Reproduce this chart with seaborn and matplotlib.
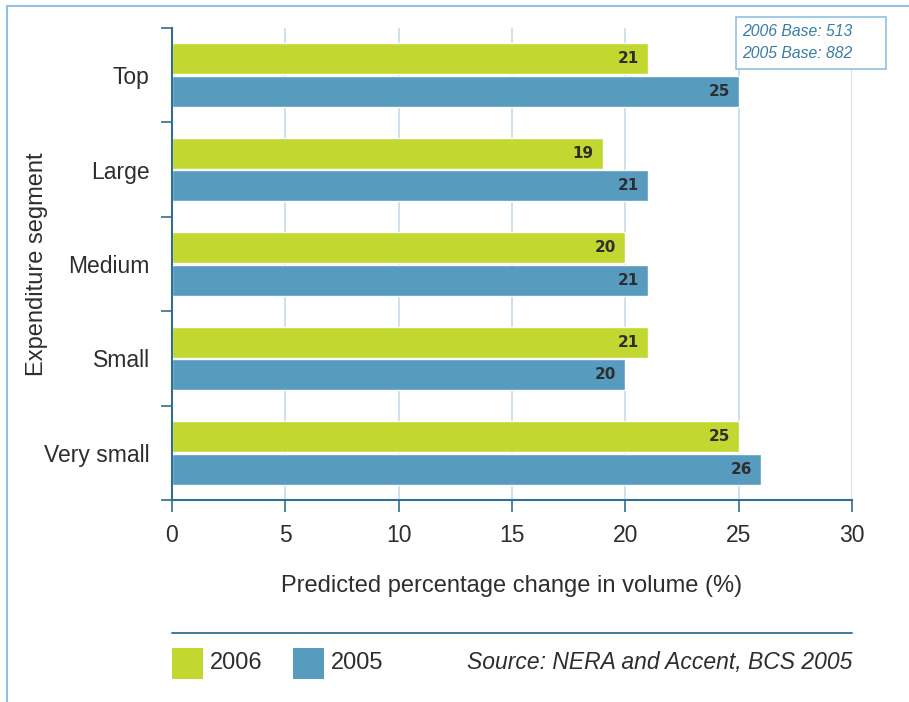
import matplotlib
matplotlib.use("Agg")
import matplotlib.pyplot as plt
from matplotlib.patches import Rectangle
from matplotlib.lines import Line2D
from matplotlib.ticker import FixedLocator
import seaborn as sns
import pandas as pd

segments = ["Top", "Large", "Medium", "Small", "Very small"]
years = ["2006", "2005"]
values_2006 = [21, 19, 20, 21, 25]
values_2005 = [25, 21, 21, 20, 26]
x_ticks = [0, 5, 10, 15, 20, 25, 30]

GREEN = "#C2D72F"
BLUE = "#579BBF"
AXIS = "#2F6F8F"
GRID = "#C5DCEC"
FRAME = "#92C1DF"
TEXT = "#2E2E2E"

REG = ["Liberation Sans", "DejaVu Sans"]

sns.set_theme(style="white")
plt.rcParams["font.family"] = REG

df = pd.DataFrame({
    "Segment": segments * 2,
    "Year": [years[0]] * len(segments) + [years[1]] * len(segments),
    "Value": values_2006 + values_2005,
})

fig = plt.figure(figsize=(9.09, 7.02), dpi=100)
ax = fig.add_axes([172 / 909, 1 - 500 / 702, 680 / 909, 472 / 702])

sns.barplot(data=df, y="Segment", x="Value", hue="Year", hue_order=years,
            order=segments, palette=[GREEN, BLUE], orient="h", width=0.69,
            gap=0.05, saturation=1, legend=False, ax=ax, zorder=3)

ax.set_xlim(0, 30)
ax.set_ylim(4.5, -0.5)
ax.xaxis.set_major_locator(FixedLocator(x_ticks))
ax.set_xticklabels([str(t) for t in x_ticks], fontsize=16.5, color=TEXT)
ax.tick_params(axis="x", bottom=True, direction="out", length=8.5, width=1.2,
               color=AXIS, pad=9)

ax.yaxis.set_major_locator(FixedLocator(range(len(segments))))
ax.set_yticklabels(segments, fontsize=16.5, color=TEXT)
ax.yaxis.set_minor_locator(FixedLocator([i - 0.5 for i in range(len(segments) + 1)]))
ax.tick_params(axis="y", which="major", left=True, length=0, pad=16)
ax.tick_params(axis="y", which="minor", left=True, direction="out", length=8,
               width=1.2, color=AXIS)

for x in x_ticks[1:]:
    ax.axvline(x, color=GRID, lw=1.2, zorder=1)

for s in ["top", "right"]:
    ax.spines[s].set_visible(False)
for s in ["left", "bottom"]:
    ax.spines[s].set_color(AXIS)
    ax.spines[s].set_linewidth(1.5)
    ax.spines[s].set_zorder(4)

ax.set_xlabel("Predicted percentage change in volume (%)", fontsize=17,
              color=TEXT, labelpad=20)
ax.set_ylabel("Expenditure segment", fontsize=17, color=TEXT)
ax.yaxis.set_label_coords((48 - 172) / 680, 0.5)

# value labels
for vals, off in [(values_2006, -0.1725), (values_2005, 0.1725)]:
    for i, v in enumerate(vals):
        ax.annotate(str(v), xy=(v, i + off), xytext=(-6.5, 0), textcoords="offset points",
                    ha="right", va="center", fontsize=11, fontweight="bold",
                    fontfamily="DejaVu Sans", color=TEXT, zorder=5)

# frame border
fig.add_artist(Line2D([7 / 909, 1], [1 - 6 / 702] * 2, transform=fig.transFigure, color=FRAME, lw=1.5))
fig.add_artist(Line2D([7 / 909] * 2, [0, 1 - 6 / 702], transform=fig.transFigure, color=FRAME, lw=1.5))

# base annotation box
fig.add_artist(Rectangle((736 / 909, 1 - 69 / 702), 150 / 909, 52 / 702, transform=fig.transFigure,
                         facecolor="white", edgecolor=FRAME, lw=1.2, zorder=6))
fig.text(742 / 909, 1 - 31 / 702, "2006 Base: 513", style="italic",
         fontsize=11.3, color="#3A7DA3", va="center", zorder=7)
fig.text(742 / 909, 1 - 53 / 702, "2005 Base: 882", style="italic",
         fontsize=11.3, color="#3A7DA3", va="center", zorder=7)

# legend rule and legend
fig.add_artist(Line2D([172 / 909, 852 / 909], [1 - 633 / 702] * 2, transform=fig.transFigure, color=AXIS, lw=1.3))
for x0, col, lab in [(172, GREEN, years[0]), (293, BLUE, years[1])]:
    fig.add_artist(Rectangle((x0 / 909, 1 - 679 / 702), 31 / 909, 31 / 702,
                             transform=fig.transFigure, facecolor=col, edgecolor="none"))
    fig.text((x0 + 38) / 909, 1 - 663 / 702, lab, fontsize=17,
             color=TEXT, va="center")
fig.text(852 / 909, 1 - 663 / 702, "Source: NERA and Accent, BCS 2005",
         style="italic", fontsize=16.5, color=TEXT, va="center", ha="right")

fig.savefig("out.png", dpi=100, facecolor="white")
